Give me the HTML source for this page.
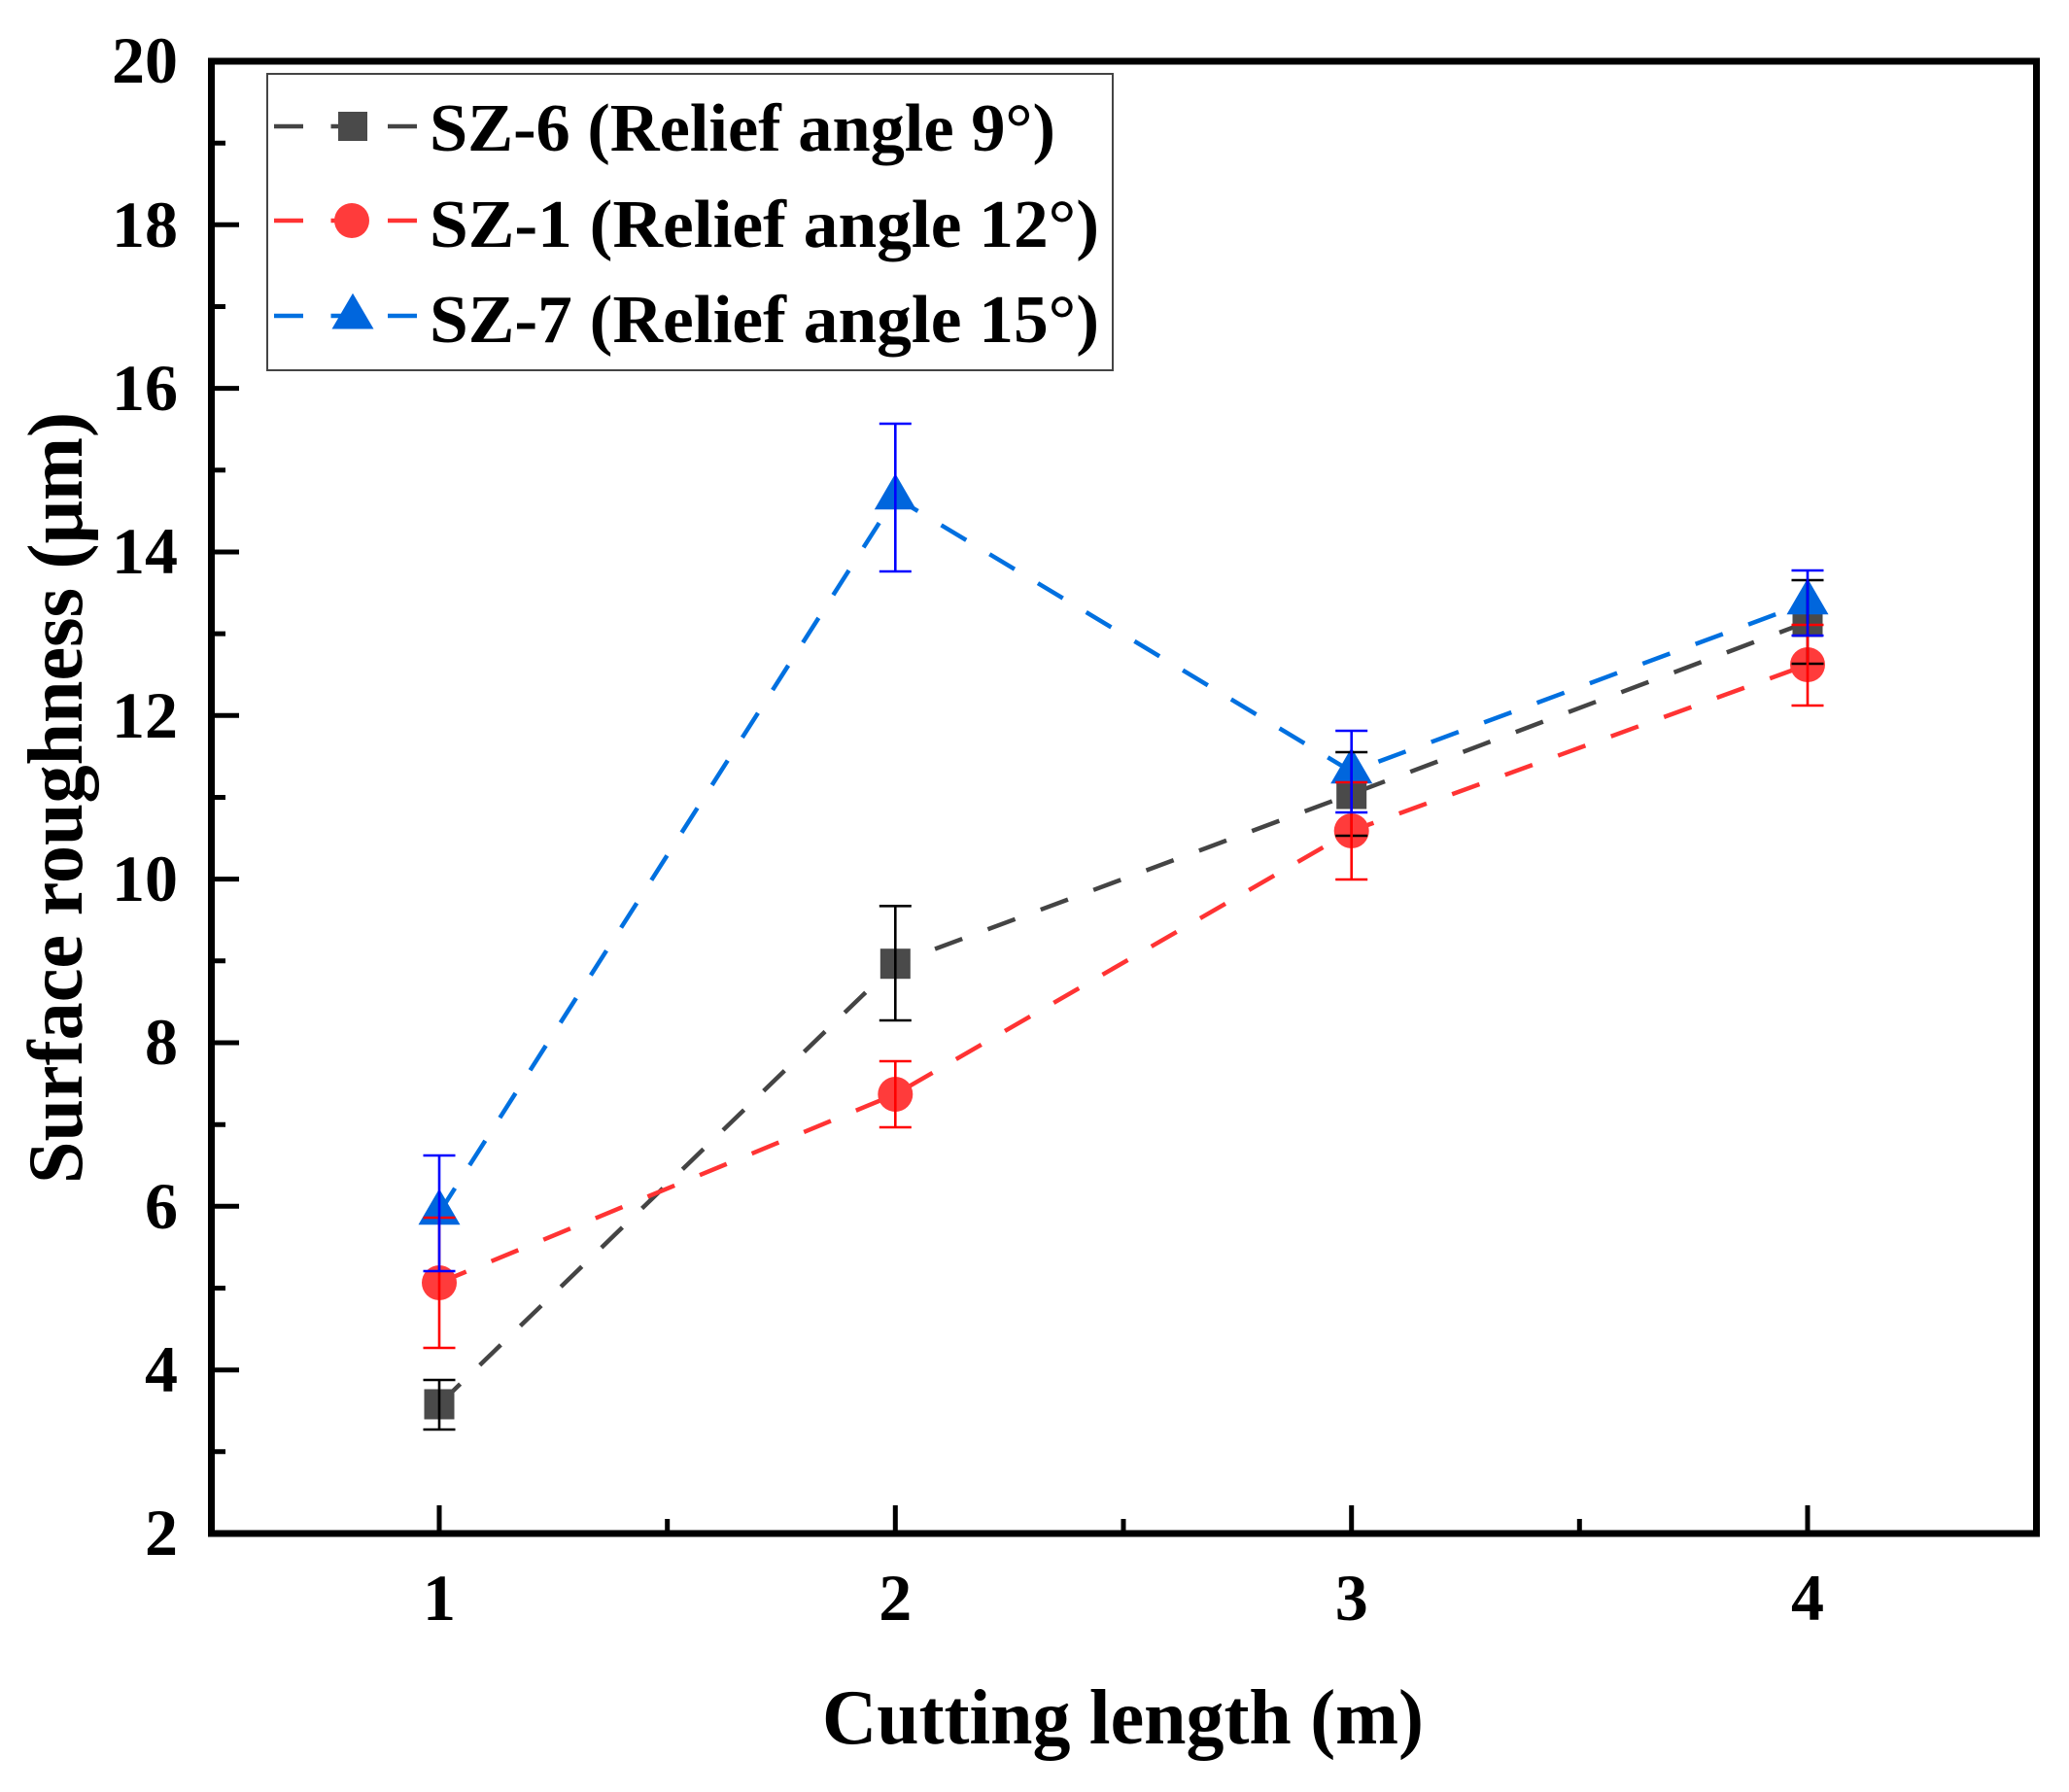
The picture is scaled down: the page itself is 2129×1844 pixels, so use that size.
<!DOCTYPE html>
<html>
<head>
<meta charset="utf-8">
<style>
html,body{margin:0;padding:0;background:#fff;}
svg{display:block;}
text{font-family:"Liberation Serif","Times New Roman",serif;font-weight:bold;fill:#000;}
</style>
</head>
<body>
<svg width="2129" height="1844" viewBox="0 0 2129 1844" xmlns="http://www.w3.org/2000/svg">
<rect x="0" y="0" width="2129" height="1844" fill="#fff"/>

<!-- dashed series lines -->
<g fill="none" stroke-width="4.5" stroke-dasharray="30 28" stroke-linecap="butt">
  <polyline stroke="#444444" points="452,1445 921.3,991.7 1390.7,817 1860,640"/>
  <polyline stroke="#ff3333" points="452,1320 921.3,1126 1390.7,855 1860,684"/>
  <polyline stroke="#0070e0" points="452,1248 921.3,512 1390.7,794 1860,620"/>
</g>

<!-- markers -->
<g fill="#4a4a4a">
  <rect x="436.5" y="1429.5" width="31" height="31"/>
  <rect x="905.8" y="976.2" width="31" height="31"/>
  <rect x="1375.2" y="801.5" width="31" height="31"/>
  <rect x="1844.5" y="624.5" width="31" height="31"/>
</g>
<g fill="#ff3b3b">
  <circle cx="452" cy="1320" r="18"/>
  <circle cx="921.3" cy="1126" r="18"/>
  <circle cx="1390.7" cy="855" r="18"/>
  <circle cx="1860" cy="684" r="18"/>
</g>
<g fill="#0066dd">
  <polygon points="452,1223.3 473.5,1260.3 430.5,1260.3"/>
  <polygon points="921.3,487.3 942.8,524.3 899.8,524.3"/>
  <polygon points="1390.7,769.3 1412.2,806.3 1369.2,806.3"/>
  <polygon points="1860,595.3 1881.5,632.3 1838.5,632.3"/>
</g>

<!-- error bars -->
<g fill="none" stroke-width="2.6">
  <g stroke="#000">
    <path d="M452,1420V1471M435.5,1420H468.5M435.5,1471H468.5"/>
    <path d="M921.3,932.3V1050M904.8,932.3H937.8M904.8,1050H937.8"/>
    <path d="M1390.7,774V860M1374.2,774H1407.2M1374.2,860H1407.2"/>
    <path d="M1860,597V683M1843.5,597H1876.5M1843.5,683H1876.5"/>
  </g>
  <g stroke="#ff0000">
    <path d="M452,1253V1387M435.5,1253H468.5M435.5,1387H468.5"/>
    <path d="M921.3,1092V1160M904.8,1092H937.8M904.8,1160H937.8"/>
    <path d="M1390.7,805V905M1374.2,805H1407.2M1374.2,905H1407.2"/>
    <path d="M1860,643V726M1843.5,643H1876.5M1843.5,726H1876.5"/>
  </g>
  <g stroke="#0000ff">
    <path d="M452,1189V1308M435.5,1189H468.5M435.5,1308H468.5"/>
    <path d="M921.3,436V588M904.8,436H937.8M904.8,588H937.8"/>
    <path d="M1390.7,752V836M1374.2,752H1407.2M1374.2,836H1407.2"/>
    <path d="M1860,587V654M1843.5,587H1876.5M1843.5,654H1876.5"/>
  </g>
</g>

<!-- ticks -->
<g stroke="#000" stroke-width="5" fill="none">
  <!-- y major: 4..18 -->
  <path d="M217.5,1409.7H246 M217.5,1241.3H246 M217.5,1073H246 M217.5,904.6H246 M217.5,736.3H246 M217.5,568H246 M217.5,399.6H246 M217.5,231.3H246"/>
  <!-- y minor: 3..19 -->
  <path d="M217.5,1493.8H232 M217.5,1325.5H232 M217.5,1157.2H232 M217.5,988.8H232 M217.5,820.5H232 M217.5,652.1H232 M217.5,483.8H232 M217.5,315.5H232 M217.5,147.2H232"/>
  <!-- x major -->
  <path d="M452,1578V1549 M921.3,1578V1549 M1390.7,1578V1549 M1860,1578V1549"/>
  <!-- x minor -->
  <path d="M686.7,1578V1563 M1156,1578V1563 M1625.3,1578V1563"/>
</g>

<!-- axes frame -->
<rect x="217.5" y="63" width="1878" height="1515" fill="none" stroke="#000" stroke-width="7"/>

<!-- y tick labels -->
<g font-size="68" text-anchor="end">
  <text x="183" y="1600">2</text>
  <text x="183" y="1432">4</text>
  <text x="183" y="1264">6</text>
  <text x="183" y="1095">8</text>
  <text x="183" y="927">10</text>
  <text x="183" y="759">12</text>
  <text x="183" y="590">14</text>
  <text x="183" y="422">16</text>
  <text x="183" y="254">18</text>
  <text x="183" y="85">20</text>
</g>

<!-- x tick labels -->
<g font-size="68" text-anchor="middle">
  <text x="452" y="1667">1</text>
  <text x="921.3" y="1667">2</text>
  <text x="1390.7" y="1667">3</text>
  <text x="1860" y="1667">4</text>
</g>

<!-- axis titles -->
<text x="1155.5" y="1794" font-size="80" text-anchor="middle" textLength="619" lengthAdjust="spacingAndGlyphs">Cutting length (m)</text>
<text transform="translate(84,821) rotate(-90)" font-size="80" text-anchor="middle" textLength="794" lengthAdjust="spacingAndGlyphs">Surface roughness (μm)</text>

<!-- legend -->
<rect x="275" y="76" width="870" height="305" fill="#fff" stroke="#444" stroke-width="2"/>
<g fill="none" stroke-width="4.5" stroke-dasharray="30 28.5">
  <line x1="282" y1="130" x2="429" y2="130" stroke="#444444"/>
  <line x1="282" y1="227" x2="429" y2="227" stroke="#ff3333"/>
  <line x1="282" y1="325" x2="429" y2="325" stroke="#0070e0"/>
</g>
<rect x="348" y="115" width="30" height="30" fill="#4a4a4a"/>
<circle cx="362" cy="227" r="18" fill="#ff3b3b"/>
<polygon points="363,301.7 384.5,338.5 341.5,338.5" fill="#0066dd"/>
<g font-size="70">
  <text x="442" y="155" textLength="644" lengthAdjust="spacingAndGlyphs">SZ-6 (Relief angle 9°)</text>
  <text x="442" y="254" textLength="689" lengthAdjust="spacingAndGlyphs">SZ-1 (Relief angle 12°)</text>
  <text x="442" y="352" textLength="689" lengthAdjust="spacingAndGlyphs">SZ-7 (Relief angle 15°)</text>
</g>
</svg>
</body>
</html>
